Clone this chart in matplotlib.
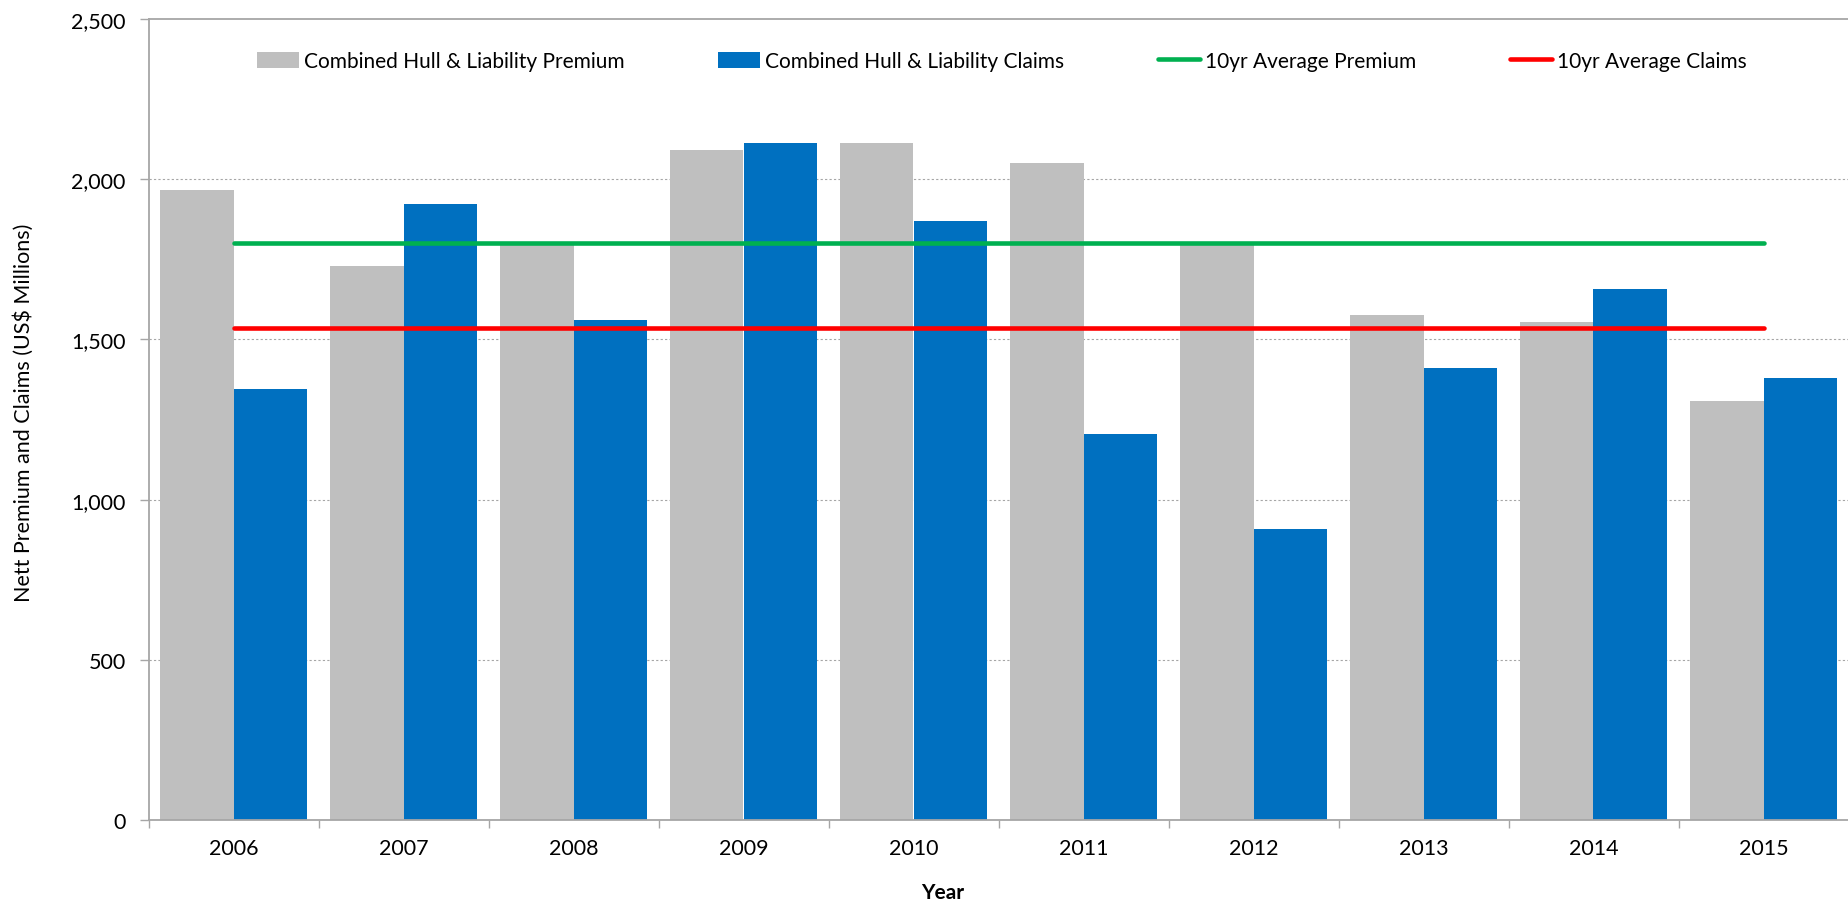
import matplotlib.pyplot as plt
from matplotlib.ticker import FixedLocator

years = ['2006', '2007', '2008', '2009', '2010', '2011', '2012', '2013', '2014', '2015']
premium = [1965, 1730, 1794, 2091, 2112, 2051, 1795, 1575, 1555, 1307]
claims = [1346, 1923, 1562, 2112, 1868, 1204, 908, 1410, 1658, 1380]
avg_premium = 1800
avg_claims = 1537
y_ticks = [0, 500, 1000, 1500, 2000, 2500]
y_tick_labels = ['0', '500', '1,000', '1,500', '2,000', '2,500']

plt.rcParams['font.family'] = ['Lato', 'DejaVu Sans']


def main():
    fig = plt.figure(figsize=(18.48, 9.03), dpi=100)
    ax = fig.add_axes([148.5 / 1848, 82 / 903, 1700 / 1848, 801 / 903])

    x = list(range(len(years)))
    w = 0.432
    b1 = ax.bar([i - w / 2 for i in x], premium, width=w, color='#BFBFBF',
                label='Combined Hull & Liability Premium', zorder=2)
    b2 = ax.bar([i + w / 2 for i in x], claims, width=w, color='#0070C0',
                label='Combined Hull & Liability Claims', zorder=2)
    l1, = ax.plot(x, [avg_premium] * len(x), color='#00B050', lw=3.3,
                  solid_capstyle='round', label='10yr Average Premium', zorder=3)
    l2, = ax.plot(x, [avg_claims] * len(x), color='#FF0000', lw=3.3,
                  solid_capstyle='round', label='10yr Average Claims', zorder=3)

    ax.set_xlim(-0.5, len(years) - 0.5)
    ax.set_ylim(0, 2500)

    # axes style
    ax.set_yticks(y_ticks)
    ax.set_yticklabels(y_tick_labels, fontsize=15.5)
    ax.tick_params(axis='y', length=6.5, width=1, color='#A6A6A6', pad=10)
    ax.set_xticks(x)
    ax.set_xticklabels(years, fontsize=15.5)
    ax.tick_params(axis='x', which='major', length=0, pad=13)
    ax.xaxis.set_minor_locator(FixedLocator([i - 0.5 for i in range(len(years) + 1)]))
    ax.tick_params(axis='x', which='minor', length=6, width=1, color='#A6A6A6')

    for gy in y_ticks[1:-1]:
        ax.axhline(gy, color='#A6A6A6', lw=0.8, ls=(0, (2, 2)), zorder=1)

    for side in ['left', 'bottom', 'top']:
        ax.spines[side].set_color('#A6A6A6')
        ax.spines[side].set_linewidth(1.3)
    ax.spines['right'].set_visible(False)

    ax.set_ylabel('Nett Premium and Claims (US$ Millions)', fontsize=15.5, va='center')
    ax.yaxis.set_label_coords(-0.0735, 0.51)
    ax.set_xlabel('Year', fontsize=15, fontweight='bold', va='center')
    ax.xaxis.set_label_coords(0.467, -0.09)

    ax.legend([b1, b2, l1, l2], [b1.get_label(), b2.get_label(), l1.get_label(), l2.get_label()],
              loc='center', bbox_to_anchor=(0.502, 0.9475), ncol=4, frameon=False,
              fontsize=15, handlelength=2.0, handleheight=0.8, handletextpad=0.25,
              columnspacing=4.5)

    plt.savefig('out.png', dpi=100)


if __name__ == "__main__":
    main()
